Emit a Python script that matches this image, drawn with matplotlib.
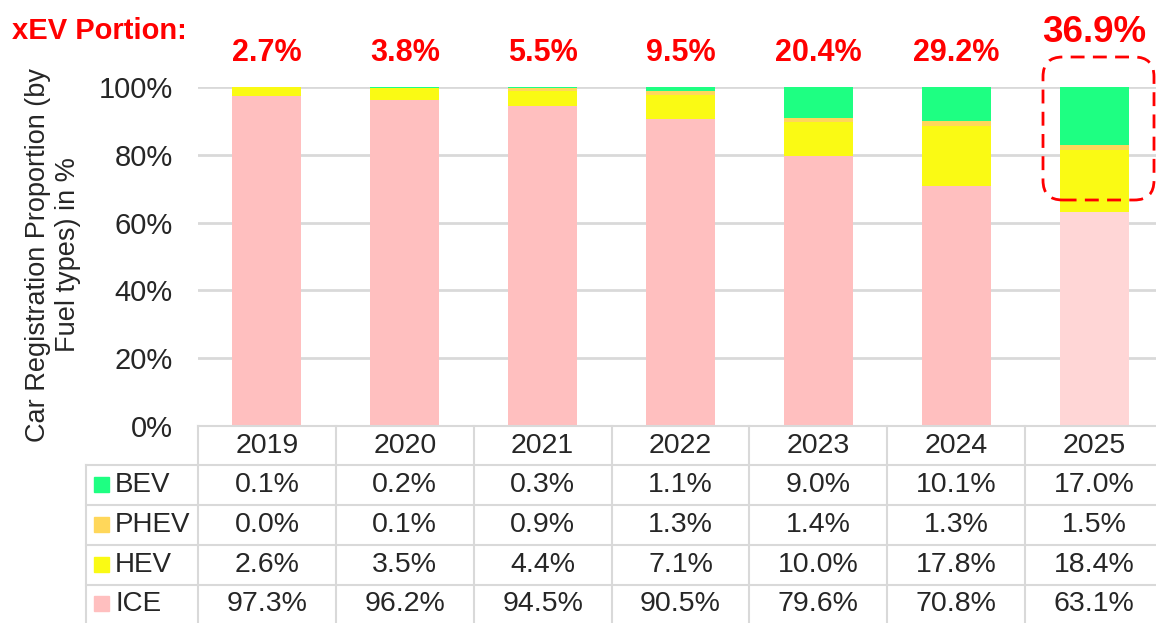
import matplotlib.pyplot as plt
import matplotlib.transforms as mtransforms
from matplotlib.patches import FancyBboxPatch, Rectangle

plt.rcParams['font.family'] = ['Liberation Sans', 'DejaVu Sans']

years = ['2019', '2020', '2021', '2022', '2023', '2024', '2025']
bev = [0.1, 0.2, 0.3, 1.1, 9.0, 10.1, 17.0]
phev = [0.0, 0.1, 0.9, 1.3, 1.4, 1.3, 1.5]
hev = [2.6, 3.5, 4.4, 7.1, 10.0, 17.8, 18.4]
ice = [97.3, 96.2, 94.5, 90.5, 79.6, 70.8, 63.1]
xev_labels = ['2.7%', '3.8%', '5.5%', '9.5%', '20.4%', '29.2%', '36.9%']

c_bev = '#1EFF82'
c_phev = '#FFD75A'
c_hev = '#FAFA14'
c_ice = '#FFBFBF'
c_ice_last = '#FFD6D6'
grid_c = '#D9D9D9'
txt_c = '#262626'
fs = 20.5

W, H = 1156, 623
fig = plt.figure(figsize=(W / 100, H / 100), dpi=100)


def fy(py):
    return 1 - py / H


ax_right = 1163
ax = fig.add_axes([198 / W, fy(426), (ax_right - 198) / W, (426 - 87) / H])
x = list(range(len(years)))
bw = 0.5
ice_colors = [c_ice] * (len(years) - 1) + [c_ice_last]
b1 = ice
b2 = [a + b for a, b in zip(b1, hev)]
b3 = [a + b for a, b in zip(b2, phev)]
ax.bar(x, ice, bw, color=ice_colors, zorder=2)
ax.bar(x, hev, bw, bottom=b1, color=c_hev, zorder=2)
ax.bar(x, phev, bw, bottom=b2, color=c_phev, zorder=2)
ax.bar(x, bev, bw, bottom=b3, color=c_bev, zorder=2)

ax.set_xlim(-0.5, len(years) - 0.5)
ax.set_ylim(0, 100)
ax.set_yticks([0, 20, 40, 60, 80, 100])
ax.set_yticklabels(['0%', '20%', '40%', '60%', '80%', '100%'], fontsize=21, color=txt_c)
ax.tick_params(axis='y', length=0, pad=18)
ax.set_xticks([])
for s in ax.spines.values():
    s.set_visible(False)
ax.yaxis.grid(True, color=grid_c, linewidth=2, zorder=0)
ax.set_axisbelow(True)

# xEV portion labels
for i, lab in enumerate(xev_labels):
    if i == len(xev_labels) - 1:
        ax.text(i, 116.2, lab, ha='center', va='center', fontsize=26.5, fontweight='bold',
                color='#FF0000', clip_on=False)
    else:
        ax.text(i, 109.9, lab, ha='center', va='center', fontsize=22, fontweight='bold',
                color='#FF0000', clip_on=False)

fig.text(12 / W, fy(31), 'xEV Portion:', ha='left', va='center', fontsize=21,
         fontweight='bold', color='#FF0000')
fig.text(53 / W, fy(255), 'Car Registration Proportion (by\nFuel types) in %', rotation=90,
         ha='center', va='center', fontsize=19.5, color=txt_c, linespacing=1.2)

# highlight box around 2025
box = FancyBboxPatch((1043 / W, fy(200)), 111 / W, 143 / H,
                     boxstyle='round,pad=0,rounding_size=0.017', mutation_aspect=W / H,
                     transform=fig.transFigure, fill=False, edgecolor='#FF0000',
                     linewidth=2, linestyle=(0, (5, 3)), zorder=5)
fig.patches.append(box)

# data table below the chart
tr = mtransforms.blended_transform_factory(ax.transData, fig.transFigure)
col_w_px = (ax_right - 198) / len(years)
leg_left = -0.5 - (198 - 86) / col_w_px
row_edges = [426, 465, 505, 545, 585, 623]
n = len(years)
lk = dict(color=grid_c, linewidth=1.5, transform=tr, clip_on=False)
ax.plot([-0.5, n - 0.5], [fy(426)] * 2, **lk)
for py in row_edges[1:-1]:
    ax.plot([leg_left, n - 0.5], [fy(py)] * 2, **lk)
ax.plot([leg_left, leg_left], [fy(465), fy(623)], **lk)
for k in range(n):
    ax.plot([k - 0.5, k - 0.5], [fy(426), fy(623)], **lk)

for i, yr in enumerate(years):
    ax.text(i, fy(446), yr, ha='center', va='center', fontsize=fs, color=txt_c,
            transform=tr, clip_on=False)

rows = [('BEV', c_bev, bev), ('PHEV', c_phev, phev), ('HEV', c_hev, hev), ('ICE', c_ice, ice)]
for r, (name, col, vals) in enumerate(rows):
    yc = (row_edges[r + 1] + row_edges[r + 2]) / 2
    fig.patches.append(Rectangle((94 / W, fy(yc + 7)), 15 / W, 15 / H, color=col,
                                 transform=fig.transFigure))
    fig.text(115 / W, fy(yc), name, ha='left', va='center', fontsize=20, color=txt_c)
    for i, v in enumerate(vals):
        ax.text(i, fy(yc), f'{v:.1f}%', ha='center', va='center', fontsize=fs,
                color=txt_c, transform=tr, clip_on=False)

fig.savefig('out.png', dpi=100)
